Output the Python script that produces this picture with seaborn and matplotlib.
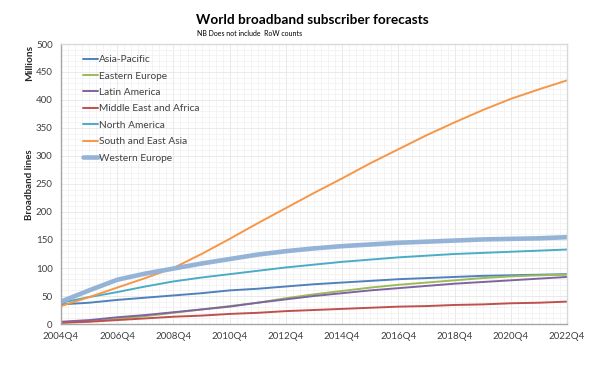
import matplotlib
matplotlib.use("Agg")
import matplotlib.pyplot as plt
from matplotlib.ticker import MultipleLocator
import seaborn as sns
import pandas as pd

quarters = ["2004Q4", "2005Q4", "2006Q4", "2007Q4", "2008Q4", "2009Q4", "2010Q4",
            "2011Q4", "2012Q4", "2013Q4", "2014Q4", "2015Q4", "2016Q4", "2017Q4",
            "2018Q4", "2019Q4", "2020Q4", "2021Q4", "2022Q4"]

asia_pacific = [35, 38, 43, 47, 51, 55, 60, 63, 67, 71, 74, 77, 80, 82, 84, 86, 87, 88, 89]
eastern_europe = [3, 5, 9, 14, 20, 26, 32, 38, 46, 53, 59, 65, 70, 74, 78, 82, 85, 87, 88]
latin_america = [4, 7, 12, 16, 21, 26, 31, 38, 44, 50, 55, 60, 64, 68, 72, 75, 78, 81, 84]
middle_east_africa = [2, 4, 7, 10, 13, 15, 18, 20, 23, 25, 27, 29, 31, 32, 34, 35, 37, 38, 40]
north_america = [38, 48, 57, 67, 76, 83, 89, 95, 101, 106, 111, 115, 119, 122, 125, 127, 129, 131, 133]
south_east_asia = [32, 48, 65, 82, 100, 125, 152, 180, 207, 234, 260, 287, 312, 337, 360, 382, 402, 419, 435]
western_europe = [40, 60, 79, 90, 99, 108, 116, 124, 130, 135, 139, 142, 145, 147, 149, 151, 152, 153, 155]

series_names = ["Asia-Pacific", "Eastern Europe", "Latin America", "Middle East and Africa",
                "North America", "South and East Asia", "Western Europe"]
series_values = [asia_pacific, eastern_europe, latin_america, middle_east_africa,
                 north_america, south_east_asia, western_europe]
colors = ["#4F81BD", "#9BBB59", "#8064A2", "#C0504D", "#4BACC6", "#F79646", "#95B3D7"]
widths = [1.4, 1.4, 1.4, 1.4, 1.4, 1.4, 3.3]

rows = []
for name, vals in zip(series_names, series_values):
    for i, (q, v) in enumerate(zip(quarters, vals)):
        rows.append({"series": name, "qidx": i * 4, "quarter": q, "value": v})
df = pd.DataFrame(rows)

sns.set_theme(style="white")
plt.rcParams["font.family"] = ["Lato", "DejaVu Sans"]

fig = plt.figure(figsize=(5.9, 3.85), dpi=100)
ax = fig.add_axes([61 / 590, 1 - 324 / 385, 506 / 590, 280 / 385])

for name, c, w in zip(series_names, colors, widths):
    sub = df[df["series"] == name]
    sns.lineplot(data=sub, x="qidx", y="value", ax=ax, color=c, linewidth=w, label=name)

ax.set_xlim(0, (len(quarters) - 1) * 4)
ax.set_ylim(0, 500)
ax.yaxis.set_major_locator(MultipleLocator(50))
ax.yaxis.set_minor_locator(MultipleLocator(10))
ax.set_xticks([i * 4 for i in range(0, len(quarters), 2)])
ax.set_xticklabels(quarters[::2])
ax.xaxis.set_minor_locator(MultipleLocator(1))

ax.grid(True, which="major", color="#E6E6E6", linewidth=0.6)
ax.grid(True, which="minor", color="#F0F0F0", linewidth=0.5)
ax.set_axisbelow(True)

for side in ["top", "right"]:
    ax.spines[side].set_color("#D9D9D9")
    ax.spines[side].set_linewidth(1.0)
for side in ["left", "bottom"]:
    ax.spines[side].set_color("#A6A6A6")
    ax.spines[side].set_linewidth(1.0)

ax.tick_params(axis="both", which="both", direction="out", colors="#A6A6A6",
               labelcolor="#404040", labelsize=7)
ax.tick_params(axis="x", which="major", length=4, width=0.8, pad=2)
ax.tick_params(axis="x", which="minor", length=4, width=0.8)
ax.tick_params(axis="y", which="major", length=4, width=0.8, pad=2)
ax.tick_params(axis="y", which="minor", length=0)

ax.set_xlabel("")
ax.set_ylabel("")

leg = ax.legend(loc="upper left", bbox_to_anchor=(0.035, 0.975), frameon=False,
                fontsize=7.3, handlelength=1.5, handletextpad=0.1, labelspacing=0.72,
                borderaxespad=0)
for t in leg.get_texts():
    t.set_color("#404040")

fig.text(312 / 590, 1 - 20 / 385, "World broadband subscriber forecasts", ha="center",
         va="center", fontsize=9.8, fontweight="bold", color="black")
fig.text(197 / 590, 1 - 33 / 385, "NB Does not include  RoW counts", ha="left",
         va="center", fontsize=5.0, color="black")
fig.text(30 / 590, 1 - 63 / 385, "Millions", rotation=90, ha="center", va="center",
         fontsize=7.3, fontweight="bold")
fig.text(30 / 590, 1 - 185 / 385, "Broadband lines", rotation=90, ha="center", va="center",
         fontsize=7, fontweight="bold")

fig.savefig("out.png", dpi=100)
